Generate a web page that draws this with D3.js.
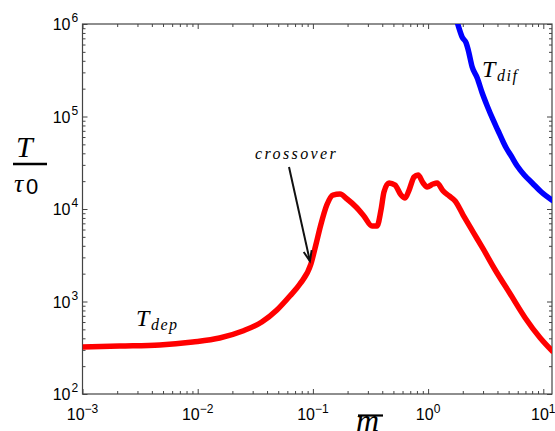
<!DOCTYPE html>
<html>
<head>
<meta charset="utf-8">
<script src="https://cdn.jsdelivr.net/npm/d3@7"></script>
<style>
  body { margin: 0; background: #fff; }
  svg { display: block; }
  .math { font-family: 'Liberation Serif', 'Times New Roman', serif; font-style: italic; fill: #000; }
</style>
</head>
<body>
<svg id="chart"></svg>
<script>
// T_dep curve (red)
const depX = [0.001, 0.0021, 0.00468, 0.00906, 0.0155, 0.0246, 0.036, 0.0487, 0.0631, 0.0771, 0.0961,
  0.106, 0.117, 0.132, 0.149, 0.172, 0.198, 0.237, 0.277, 0.326, 0.36, 0.39, 0.414, 0.458, 0.516,
  0.582, 0.631, 0.684, 0.756, 0.818, 0.905, 0.98, 1.105, 1.196, 1.349, 1.523, 1.717, 2.014, 2.461,
  3.006, 3.826, 5.166, 6.97, 9.41, 12.2];
const depY = [322, 330, 339, 365, 403, 480, 600, 809, 1146, 1545, 2540,
  4080, 6720, 11040, 14160, 14520, 12820, 10500, 8400, 6550, 6550, 9750, 15280, 19100, 18150,
  14160, 13150, 16030, 22180, 23320, 19100, 17300, 18620, 19100, 15680, 13830, 12200, 8610, 5630,
  3700, 2190, 1205, 664, 403, 284];

// T_dif curve (blue)
const difX = [1.717, 1.82, 1.976, 2.14, 2.23, 2.414, 2.67, 2.95, 3.26, 3.67, 4.06, 4.49, 4.77,
  5.27, 5.94, 6.84, 8.02, 9.61, 12.2];
const difY = [1250000, 975000, 722000, 623000, 524000, 343000, 260700, 179500, 130000, 91700, 69700,
  53000, 45600, 37400, 29150, 23320, 19100, 15280, 12200];

const xMajor = [-3, -2, -1, 0, 1];
const yMajor = [2, 3, 4, 5, 6];

const crossover = { x: 0.0961, y: 2540 };

const SANS = "'Liberation Sans', Arial, sans-serif";

const W = 555, H = 431;
const margin = { top: 24, right: 3, bottom: 37, left: 82.5 };
const width = W - margin.left - margin.right;
const height = H - margin.top - margin.bottom;

const svgEl = d3.select('#chart').attr('width', W).attr('height', H);
const svg = svgEl.append('g').attr('transform', `translate(${margin.left},${margin.top})`);

const x = d3.scaleLog().domain([1e-3, 11.9]).range([0, width]);
const y = d3.scaleLog().domain([1e2, 1e6]).range([height, 0]);

// all ticks (major + minor) inside domain
function logTicks(lo, hi) {
  const out = [];
  for (let e = Math.floor(Math.log10(lo)); e <= Math.ceil(Math.log10(hi)); e++) {
    for (let m = 1; m < 10; m++) {
      const v = m * Math.pow(10, e);
      if (v >= lo * 0.9999 && v <= hi * 1.0001) out.push(v);
    }
  }
  return out;
}
const isMajor = (v) => Math.abs(Math.log10(v) - Math.round(Math.log10(v))) < 1e-6;

const axisColor = '#444';
function styleAxis(g, sign) {
  g.select('.domain').remove();
  g.selectAll('.tick line')
    .attr('stroke', axisColor)
    .attr('stroke-width', 1)
    .each(function (d) {
      const len = isMajor(d) ? 5 : 3;
      const line = d3.select(this);
      if (line.attr('x2') !== null && +line.attr('x2') !== 0) line.attr('x2', sign * len);
      else line.attr('y2', sign * len);
    });
  g.selectAll('.tick text').remove();
}

const xt = logTicks(1e-3, 11.9);
const yt = logTicks(1e2, 1e6);

svg.append('g').attr('transform', `translate(0,${height})`)
  .call(d3.axisBottom(x).tickValues(xt).tickSize(-5).tickFormat(''))
  .call((g) => styleAxis(g, -1));
svg.append('g')
  .call(d3.axisTop(x).tickValues(xt).tickSize(-5).tickFormat(''))
  .call((g) => styleAxis(g, 1));
svg.append('g')
  .call(d3.axisLeft(y).tickValues(yt).tickSize(-5).tickFormat(''))
  .call((g) => styleAxis(g, 1));
svg.append('g').attr('transform', `translate(${width},0)`)
  .call(d3.axisRight(y).tickValues(yt).tickSize(-5).tickFormat(''))
  .call((g) => styleAxis(g, -1));

// box
svg.append('rect')
  .attr('width', width).attr('height', height)
  .attr('fill', 'none').attr('stroke', axisColor).attr('stroke-width', 1.2);

// tick labels
xMajor.forEach((e) => {
  const t = svg.append('text').attr('font-family', SANS).attr('font-size', 16)
    .attr('x', x(Math.pow(10, e))).attr('y', height + 26)
    .attr('text-anchor', 'middle');
  t.append('tspan').text('10');
  t.append('tspan').attr('dy', -7).attr('font-size', 12).text(e < 0 ? '\u2212' + (-e) : e);
});
yMajor.forEach((e) => {
  svg.append('text').attr('font-family', SANS).attr('font-size', 16)
    .attr('x', -12).attr('y', y(Math.pow(10, e)) + 6)
    .attr('text-anchor', 'end')
    .text('10');
  svgEl.append('text').attr('font-family', SANS)
    .attr('x', margin.left - 11).attr('y', margin.top + y(Math.pow(10, e)) - 2)
    .attr('font-size', 12).text(e);
});

// curves
svg.append('clipPath').attr('id', 'plot-clip')
  .append('rect').attr('width', width).attr('height', height);

const line = d3.line().x((d) => x(d[0])).y((d) => y(d[1])).curve(d3.curveMonotoneX);

svg.append('path')
  .datum(depX.map((v, i) => [v, depY[i]]))
  .attr('clip-path', 'url(#plot-clip)')
  .attr('fill', 'none').attr('stroke', '#ff0000').attr('stroke-width', 5.5)
  .attr('stroke-linejoin', 'round')
  .attr('d', line);

svg.append('path')
  .datum(difX.map((v, i) => [v, difY[i]]))
  .attr('clip-path', 'url(#plot-clip)')
  .attr('fill', 'none').attr('stroke', '#0000ff').attr('stroke-width', 5.5)
  .attr('stroke-linejoin', 'round')
  .attr('d', line);

function mathText(px, py, size, str) {
  return svgEl.append('text').attr('class', 'math')
    .attr('x', px).attr('y', py).attr('font-size', size).text(str);
}

// curve labels
function subLabel(px, py, main, sub) {
  mathText(px, py, 24, main);
  mathText(px + 15, py + 4, 16, sub).attr('letter-spacing', 1.5);
}
subLabel(136, 326, 'T', 'dep');
subLabel(482, 77, 'T', 'dif');

// crossover annotation, pinned so its left edge sits at x = 255
const cross = mathText(255, 159, 16, 'crossover').attr('letter-spacing', 2.4);
const cb = cross.node().getBBox();
if (Math.abs(cb.x - 255) > 2) cross.attr('x', 255 - (cb.x - 255));

const ax0 = 289, ay0 = 167;
const ax1 = margin.left + x(crossover.x) - 1, ay1 = margin.top + y(crossover.y) - 3;
svgEl.append('line')
  .attr('x1', ax0).attr('y1', ay0).attr('x2', ax1).attr('y2', ay1)
  .attr('stroke', '#111').attr('stroke-width', 2);
const ang = Math.atan2(ay1 - ay0, ax1 - ax0);
const hl = 11, ha = 0.38;
svgEl.append('path')
  .attr('d', `M${ax1 - hl * Math.cos(ang - ha)},${ay1 - hl * Math.sin(ang - ha)}L${ax1},${ay1}L${ax1 - hl * Math.cos(ang + ha)},${ay1 - hl * Math.sin(ang + ha)}`)
  .attr('fill', 'none').attr('stroke', '#111').attr('stroke-width', 2);

// y label: T / tau_0
mathText(16, 157, 30, 'T');
svgEl.append('line').attr('x1', 13).attr('x2', 47).attr('y1', 164).attr('y2', 164)
  .attr('stroke', '#000').attr('stroke-width', 2.5);
mathText(14, 192, 26, '\u03c4');
svgEl.append('text').attr('x', 26).attr('y', 194).attr('font-size', 22)
  .attr('font-family', SANS).text('0');

// x label: m-bar
mathText(356, 431, 32, 'm');
svgEl.append('line').attr('x1', 358).attr('x2', 383).attr('y1', 415.5).attr('y2', 415.5)
  .attr('stroke', '#000').attr('stroke-width', 2.2);
</script>
</body>
</html>
